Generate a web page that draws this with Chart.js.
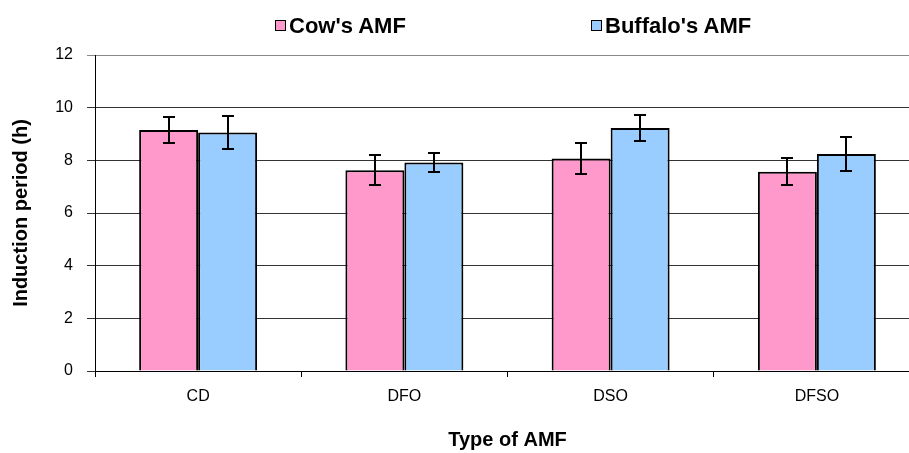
<!DOCTYPE html>
<html>
<head>
<meta charset="utf-8">
<script src="https://cdn.jsdelivr.net/npm/chart.js@4.4.1/dist/chart.umd.min.js"></script>
<style>
  html, body { margin: 0; padding: 0; background: #fff; overflow: hidden; }
  #wrap { position: relative; width: 909px; height: 453px; overflow: hidden; }
  #wrap canvas { position: absolute; left: 0; top: 0; }
  .lg-box { position: absolute; top: 20px; width: 11px; height: 11px; box-sizing: border-box; border: 1px solid #000; }
  .lg-text { position: absolute; top: 15px; font: bold 22px/22px "Liberation Sans", Arial, sans-serif; color: #000; white-space: nowrap; }
</style>
</head>
<body>
<div id="wrap">
  <canvas id="chart" width="920" height="453" style="width:920px;height:453px"></canvas>
  <div class="lg-box" style="left:275px;background:#FF99CC"></div>
  <div class="lg-text" style="left:289px">Cow's AMF</div>
  <div class="lg-box" style="left:591px;background:#99CCFF"></div>
  <div class="lg-text" style="left:605px">Buffalo's AMF</div>
</div>
<script>
// values
const categories = ["CD", "DFO", "DSO", "DFSO"];
const cowValues = [9.15, 7.62, 8.07, 7.57];
const cowErrors = [0.5, 0.57, 0.57, 0.5];
const buffaloValues = [9.06, 7.92, 9.23, 8.24];
const buffaloErrors = [0.64, 0.36, 0.5, 0.63];
const yTicks = [0, 2, 4, 6, 8, 10, 12];

const FONT = '"Liberation Sans", Arial, sans-serif';

// simple error-bar plugin: whiskers drawn through the y scale
const errorBars = {
  id: "errorBars",
  afterDatasetsDraw(chart) {
    const { ctx, scales: { y } } = chart;
    ctx.save();
    ctx.strokeStyle = "#000";
    ctx.lineWidth = 2;
    chart.data.datasets.forEach((ds, i) => {
      const meta = chart.getDatasetMeta(i);
      meta.data.forEach((bar, j) => {
        const v = ds.data[j];
        const e = ds.errors[j];
        const top = Math.round(y.getPixelForValue(v + e));
        const bot = Math.round(y.getPixelForValue(v - e));
        const x = Math.round(bar.x);
        ctx.beginPath();
        ctx.moveTo(x, top);
        ctx.lineTo(x, bot);
        ctx.moveTo(x - 6, top);
        ctx.lineTo(x + 6, top);
        ctx.moveTo(x - 6, bot);
        ctx.lineTo(x + 6, bot);
        ctx.stroke();
      });
    });
    ctx.restore();
  },
};

new Chart(document.getElementById("chart"), {
  type: "bar",
  data: {
    labels: categories,
    datasets: [
      {
        label: "Cow's AMF",
        data: cowValues,
        errors: cowErrors,
        backgroundColor: "#FF99CC",
        borderColor: "#000",
        borderWidth: 2,
      },
      {
        label: "Buffalo's AMF",
        data: buffaloValues,
        errors: buffaloErrors,
        backgroundColor: "#99CCFF",
        borderColor: "#000",
        borderWidth: 2,
      },
    ],
  },
  options: {
    responsive: false,
    animation: false,
    events: [],
    layout: { padding: { top: 55, right: 0, bottom: 0, left: 0 } },
    datasets: {
      bar: { categoryPercentage: 0.572, barPercentage: 1 },
    },
    plugins: {
      legend: { display: false },
      tooltip: { enabled: false },
    },
    scales: {
      x: {
        grid: {
          offset: true,
          drawOnChartArea: false,
          drawTicks: true,
          tickLength: 6,
          color: "#000",
        },
        border: { color: "#000", width: 1 },
        ticks: {
          color: "#000",
          padding: 10,
          font: { family: FONT, size: 16 },
        },
        title: {
          display: true,
          text: "Type of AMF",
          color: "#000",
          font: { family: FONT, size: 20, weight: "bold" },
          padding: { top: 11.8, bottom: 1 },
        },
      },
      y: {
        min: 0,
        max: 12,
        afterBuildTicks(scale) {
          scale.ticks = yTicks.map((v) => ({ value: v }));
        },
        afterFit(scale) {
          scale.width = 95;
        },
        grid: {
          color: (c) => (c.tick && c.tick.value === 12 ? "#888" : "#333"),
          tickLength: 8,
        },
        border: { color: "#000", width: 1 },
        ticks: {
          color: "#000",
          padding: 14,
          font: { family: FONT, size: 16 },
        },
        title: {
          display: true,
          text: "Induction period (h)",
          color: "#000",
          font: { family: FONT, size: 20, weight: "bold" },
          padding: { top: 9, bottom: 0 },
        },
      },
    },
  },
  plugins: [errorBars],
});
</script>
</body>
</html>
